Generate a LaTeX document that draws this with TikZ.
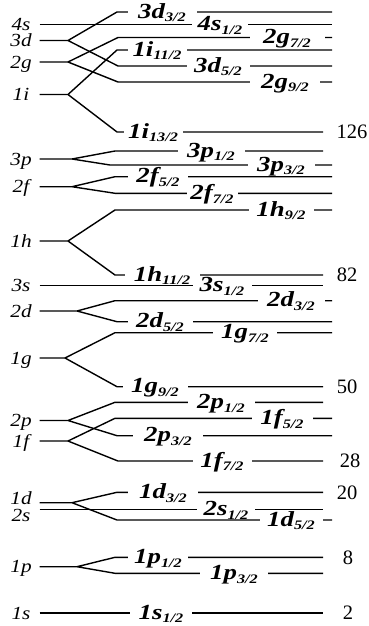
\documentclass[tikz,border=0pt]{standalone}
\usepackage{fontspec}
\setmainfont{Liberation Serif}
\newfontfamily\orbfont[FakeStretch=1.15]{Liberation Serif}
\newfontfamily\lvlfont[FakeStretch=1.25]{Liberation Serif}
\usetikzlibrary{positioning, calc}
\newcommand{\jsub}[1]{\raisebox{-3.5pt}{\fontsize{13}{13}\selectfont #1}}
\tikzset{
    orb/.style={font=\orbfont\itshape\fontsize{18.5}{18.5}\selectfont, inner sep=0pt, minimum width=36pt, text height=12.5pt, text depth=0pt},
    lvl/.style={font=\lvlfont\bfseries\itshape\fontsize{21.5}{21.5}\selectfont, fill=white, inner xsep=0pt, inner ysep=0pt, text height=15.5pt, text depth=3pt},
    magic/.style={font=\fontsize{20.5}{20.5}\selectfont, inner sep=0pt}
}
\begin{document}
\begin{tikzpicture}[x=1pt, y=-1pt, line width=1.4pt]
    \useasboundingbox (0,0) rectangle (368,626);

    \node[orb] (o4s) at (21,24.5) {4s};
    \node[orb] (o3d) at (21,40.5) {3d};
    \node[orb] (o2g) at (21,62) {2g};
    \node[orb] (o1i) at (21,94.5) {1i};
    \node[orb] (o3p) at (21,159) {3p};
    \node[orb] (o2f) at (21,186.7) {2f};
    \node[orb] (o1h) at (21,241) {1h};
    \node[orb] (o3s) at (21,285.3) {3s};
    \node[orb] (o2d) at (21,311) {2d};
    \node[orb] (o1g) at (21,358) {1g};
    \node[orb] (o2p) at (21,420.5) {2p};
    \node[orb] (o1f) at (21,441) {1f};
    \node[orb] (o1d) at (21,498) {1d};
    \node[orb] (o2s) at (21,515) {2s};
    \node[orb] (o1p) at (21,566.7) {1p};
    \node[orb] (o1s) at (21,613) {1s};

    \coordinate (b3d) at (68,40.5);
    \coordinate (b2g) at (68,62);
    \coordinate (b1i) at (68,94.5);
    \coordinate (b3p) at (72,159);
    \coordinate (b2f) at (72,186.7);
    \coordinate (b1h) at (68,241);
    \coordinate (b2d) at (77,311);
    \coordinate (b1g) at (65,358);
    \coordinate (b2p) at (68,420.5);
    \coordinate (b1f) at (68,441);
    \coordinate (b1d) at (72,502.7);
    \coordinate (b1p) at (77,566.7);

    \coordinate (k3d3) at (117,12);      \coordinate (e3d3) at (332,12);
    \coordinate (e4s1) at (332,24.5);
    \coordinate (k2g7) at (118,37.5);    \coordinate (e2g7) at (332,37.5);
    \coordinate (k1i11) at (117,50);     \coordinate (e1i11) at (332,50);
    \coordinate (k3d5) at (118,66);      \coordinate (e3d5) at (332,66);
    \coordinate (k2g9) at (118,82);      \coordinate (e2g9) at (332,82);
    \coordinate (k1i13) at (117,132);    \coordinate (e1i13) at (323,132);
    \coordinate (k3p1) at (115,151);     \coordinate (e3p1) at (323,151);
    \coordinate (k3p3) at (110,165);     \coordinate (e3p3) at (332,165);
    \coordinate (k2f5) at (115,176.7);   \coordinate (e2f5) at (332,176.7);
    \coordinate (k2f7) at (115,193.3);   \coordinate (e2f7) at (332,193.3);
    \coordinate (k1h9) at (115,210);     \coordinate (e1h9) at (332,210);
    \coordinate (k1h11) at (115,275);    \coordinate (e1h11) at (323,275);
    \coordinate (e3s1) at (323,285.3);
    \coordinate (k2d3) at (115,300.7);   \coordinate (e2d3) at (332,300.7);
    \coordinate (k2d5) at (117,321.7);   \coordinate (e2d5) at (332,321.7);
    \coordinate (k1g7) at (115,332.7);   \coordinate (e1g7) at (332,332.7);
    \coordinate (k1g9) at (117,386.7);   \coordinate (e1g9) at (323,386.7);
    \coordinate (k2p1) at (115,402.3);   \coordinate (e2p1) at (323,402.3);
    \coordinate (k1f5) at (115,418.3);   \coordinate (e1f5) at (332,418.3);
    \coordinate (k2p3) at (117,435.7);   \coordinate (e2p3) at (332,435.7);
    \coordinate (k1f7) at (118,461);     \coordinate (e1f7) at (323,461);
    \coordinate (k1d3) at (117,492.3);   \coordinate (e1d3) at (323,492.3);
    \coordinate (e2s1) at (323,509.3);
    \coordinate (k1d5) at (117,520);     \coordinate (e1d5) at (332,520);
    \coordinate (k1p1) at (115,557.3);   \coordinate (e1p1) at (323,557.3);
    \coordinate (k1p3) at (115,573.3);   \coordinate (e1p3) at (323,573.3);
    \coordinate (e1s1) at (323,613);

    \draw (o4s.east |- e4s1) -- (e4s1);
    \draw (o3d.east |- b3d) -- (b3d) -- (k3d3) -- (e3d3) (b3d) -- (k3d5) -- (e3d5);
    \draw (o2g.east |- b2g) -- (b2g) -- (k2g7) -- (e2g7) (b2g) -- (k2g9) -- (e2g9);
    \draw (o1i.east |- b1i) -- (b1i) -- (k1i11) -- (e1i11) (b1i) -- (k1i13) -- (e1i13);
    \draw (o3p.east |- b3p) -- (b3p) -- (k3p1) -- (e3p1) (b3p) -- (k3p3) -- (e3p3);
    \draw (o2f.east |- b2f) -- (b2f) -- (k2f5) -- (e2f5) (b2f) -- (k2f7) -- (e2f7);
    \draw (o1h.east |- b1h) -- (b1h) -- (k1h9) -- (e1h9) (b1h) -- (k1h11) -- (e1h11);
    \draw (o3s.east |- e3s1) -- (e3s1);
    \draw (o2d.east |- b2d) -- (b2d) -- (k2d3) -- (e2d3) (b2d) -- (k2d5) -- (e2d5);
    \draw (o1g.east |- b1g) -- (b1g) -- (k1g7) -- (e1g7) (b1g) -- (k1g9) -- (e1g9);
    \draw (o2p.east |- b2p) -- (b2p) -- (k2p1) -- (e2p1) (b2p) -- (k2p3) -- (e2p3);
    \draw (o1f.east |- b1f) -- (b1f) -- (k1f5) -- (e1f5) (b1f) -- (k1f7) -- (e1f7);
    \draw (o1d.east |- b1d) -- (b1d) -- (k1d3) -- (e1d3) (b1d) -- (k1d5) -- (e1d5);
    \draw (o2s.east |- e2s1) -- (e2s1);
    \draw (o1p.east |- b1p) -- (b1p) -- (k1p1) -- (e1p1) (b1p) -- (k1p3) -- (e1p3);
    \draw (o1s.east |- e1s1) -- (e1s1);

    \node[lvl, minimum width=69pt] (t3d3) at (162,12) {3d\jsub{3/2}};
    \node[lvl, minimum width=56pt] (t4s1) at (220,24.5) {4s\jsub{1/2}};
    \node[lvl, minimum width=75pt] (t2g7) at (287,37.5) {2g\jsub{7/2}};
    \node[lvl, minimum width=59pt] (t1i11) at (157,50) {1i\jsub{11/2}};
    \node[lvl, minimum width=63pt] (t3d5) at (218,66) {3d\jsub{5/2}};
    \node[lvl, minimum width=70pt] (t2g9) at (285,82) {2g\jsub{9/2}};
    \node[lvl, minimum width=59pt] (t1i13) at (153,132) {1i\jsub{13/2}};
    \node[lvl, minimum width=67pt] (t3p1) at (211,151) {3p\jsub{1/2}};
    \node[lvl, minimum width=67pt] (t3p3) at (281,165) {3p\jsub{3/2}};
    \node[lvl, minimum width=60pt] (t2f5) at (158,176.7) {2f\jsub{5/2}};
    \node[lvl, minimum width=51pt] (t2f7) at (212,193.3) {2f\jsub{7/2}};
    \node[lvl, minimum width=65pt] (t1h9) at (281,210) {1h\jsub{9/2}};
    \node[lvl, minimum width=75pt] (t1h11) at (162,275) {1h\jsub{11/2}};
    \node[lvl, minimum width=59pt] (t3s1) at (222,285.3) {3s\jsub{1/2}};
    \node[lvl, minimum width=67pt] (t2d3) at (291,300.7) {2d\jsub{3/2}};
    \node[lvl, minimum width=65pt] (t2d5) at (160,321.7) {2d\jsub{5/2}};
    \node[lvl, minimum width=64pt] (t1g7) at (245,332.7) {1g\jsub{7/2}};
    \node[lvl, minimum width=65pt] (t1g9) at (155,386.7) {1g\jsub{9/2}};
    \node[lvl, minimum width=67pt] (t2p1) at (221,402.3) {2p\jsub{1/2}};
    \node[lvl, minimum width=61pt] (t1f5) at (282,418.3) {1f\jsub{5/2}};
    \node[lvl, minimum width=70pt] (t2p3) at (168,435.7) {2p\jsub{3/2}};
    \node[lvl, minimum width=59pt] (t1f7) at (222,461) {1f\jsub{7/2}};
    \node[lvl, minimum width=70pt] (t1d3) at (163,492.3) {1d\jsub{3/2}};
    \node[lvl, minimum width=58pt] (t2s1) at (226,509.3) {2s\jsub{1/2}};
    \node[lvl, minimum width=63pt] (t1d5) at (291,520) {1d\jsub{5/2}};
    \node[lvl, minimum width=60pt] (t1p1) at (158,557.3) {1p\jsub{1/2}};
    \node[lvl, minimum width=68pt] (t1p3) at (234,573.3) {1p\jsub{3/2}};
    \node[lvl, minimum width=62pt] (t1s1) at (161,613) {1s\jsub{1/2}};

    \node[magic] (m126) at (352,132) {126};
    \node[magic] (m82) at (347,275) {82};
    \node[magic] (m50) at (347,386.7) {50};
    \node[magic] (m28) at (350,461) {28};
    \node[magic] (m20) at (347,492.3) {20};
    \node[magic] (m8) at (348,557.3) {8};
    \node[magic] (m2) at (348,613) {2};
\end{tikzpicture}
\end{document}
